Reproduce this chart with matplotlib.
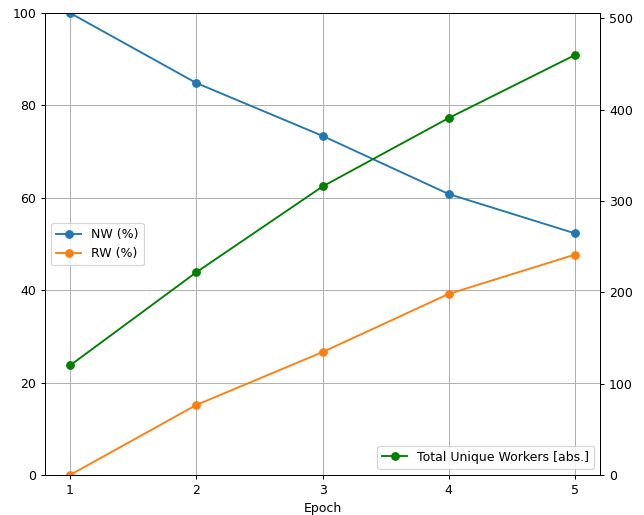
import matplotlib.pyplot as plt

epochs = [1, 2, 3, 4, 5]
nw_pct = [100.0, 84.85, 73.4, 60.8, 52.3]
rw_pct = [0.0, 15.15, 26.6, 39.2, 47.7]
total_workers = [120, 222, 316, 391, 460]

fig, ax1 = plt.subplots(figsize=(644/90, 515/90), dpi=90)
fig.subplots_adjust(left=44.8/644, right=600.3/644, top=1-13/515, bottom=1-475/515)

ax1.plot(epochs, nw_pct, marker='o', label='NW (%)')
ax1.plot(epochs, rw_pct, marker='o', label='RW (%)')
ax1.set_ylim(0, 100)
ax1.set_xticks(epochs)
ax1.set_xlabel('Epoch')
ax1.grid(True)
ax1.legend(loc='center left')

ax2 = ax1.twinx()
ax2.plot(epochs, total_workers, marker='o', color='green', label='Total Unique Workers [abs.]')
ax2.set_ylim(0, max(total_workers) * 1.1)
ax2.legend(loc='lower right')

plt.savefig('out.png')
